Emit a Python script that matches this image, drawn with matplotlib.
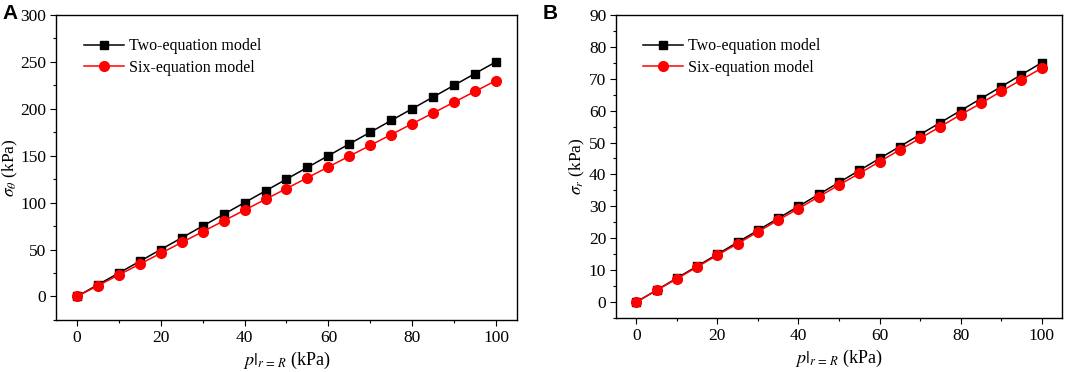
import matplotlib
matplotlib.use("Agg")
import matplotlib.pyplot as plt
from matplotlib.ticker import MultipleLocator

plt.rcParams['font.family'] = ['Liberation Serif', 'DejaVu Serif']
plt.rcParams['mathtext.fontset'] = 'stix'

# applied pressure p|_{r=R} (kPa)
pressure = [0, 5, 10, 15, 20, 25, 30, 35, 40, 45, 50,
            55, 60, 65, 70, 75, 80, 85, 90, 95, 100]

# panel A: hoop stress sigma_theta (kPa)
theta_two = [0, 12.5, 25, 37.5, 50, 62.5, 75, 87.5, 100, 112.5, 125,
             137.5, 150, 162.5, 175, 187.5, 200, 212.5, 225, 237.5, 250]
theta_six = [0, 11.5, 23, 34.5, 46, 57.5, 69, 80.5, 92, 103.5, 115,
             126.5, 138, 149.5, 161, 172.5, 184, 195.5, 207, 218.5, 230]

# panel B: radial stress sigma_r (kPa)
radial_two = [0, 3.75, 7.5, 11.25, 15, 18.75, 22.5, 26.25, 30, 33.75, 37.5,
              41.25, 45, 48.75, 52.5, 56.25, 60, 63.75, 67.5, 71.25, 75]
radial_six = [0, 3.7, 7.3, 11.0, 14.7, 18.3, 22.0, 25.7, 29.3, 33.0, 36.7,
              40.3, 44.0, 47.7, 51.3, 55.0, 58.7, 62.3, 66.0, 69.7, 73.3]

labels = ['Two-equation model', 'Six-equation model']

fig = plt.figure(figsize=(10.79, 3.72), dpi=100)
axA = fig.add_axes([0.0519, 0.140, 0.4272, 0.820])
axB = fig.add_axes([0.5709, 0.145, 0.4133, 0.815])


def style_panel(ax, y_two, y_six, ylim, ymajor, yminor, ylabel, ylab_x):
    ax.plot(pressure, y_two, color='black', marker='s', markersize=6,
            linewidth=1.1, label=labels[0])
    ax.plot(pressure, y_six, color='red', marker='o', markersize=7,
            linewidth=1.1, label=labels[1])
    ax.set_xlim(-5, 105)
    ax.set_ylim(*ylim)
    ax.xaxis.set_major_locator(MultipleLocator(20))
    ax.xaxis.set_minor_locator(MultipleLocator(10))
    ax.yaxis.set_major_locator(MultipleLocator(ymajor))
    ax.yaxis.set_minor_locator(MultipleLocator(yminor))
    ax.tick_params(which='both', direction='out', top=False, right=False,
                   labelsize=12.5)
    ax.tick_params(which='major', length=4, width=0.8, pad=3)
    ax.tick_params(which='minor', length=2.5, width=0.8)
    for s in ax.spines.values():
        s.set_linewidth(1.0)
    ax.set_xlabel(r'$p|_{r\,=\,R}$ (kPa)', fontsize=13, labelpad=3)
    ax.set_ylabel(ylabel, fontsize=12.5)
    # label anchor is the right edge of the rotated text
    ax.yaxis.set_label_coords(ylab_x, 0.5)
    ax.legend(loc='upper left', frameon=False, fontsize=11.5,
              bbox_to_anchor=(0.04, 0.955), handlelength=2.5,
              handletextpad=0.3, labelspacing=0.35, borderaxespad=0.2)


style_panel(axA, theta_two, theta_six, (-25, 300), 50, 25,
            r'$\sigma_\theta$ (kPa)', -0.078)
style_panel(axB, radial_two, radial_six, (-5, 90), 10, 5,
            r'$\sigma_r$ (kPa)', -0.064)

fig.text(0.002, 0.965, 'A', fontsize=15, fontweight='bold',
         family='Liberation Sans', va='center')
fig.text(0.503, 0.965, 'B', fontsize=15, fontweight='bold',
         family='Liberation Sans', va='center')

fig.savefig('out.png', dpi=100)
